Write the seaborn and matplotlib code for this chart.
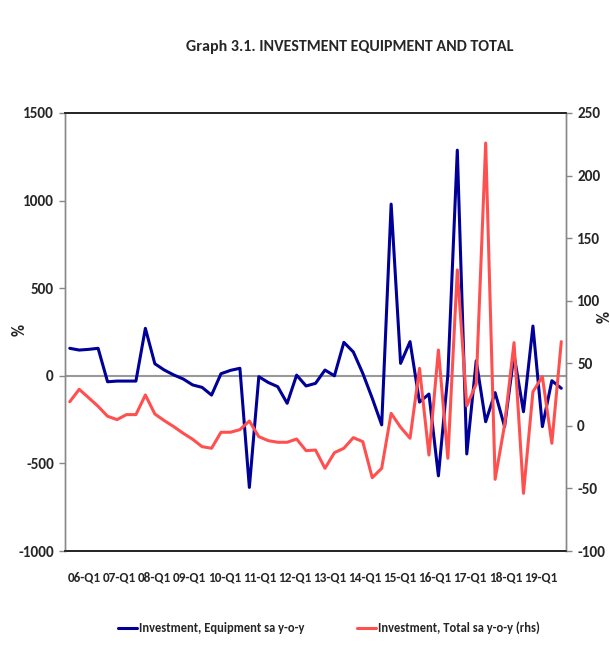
import numpy as np
import pandas as pd
import matplotlib
matplotlib.use('Agg')
import matplotlib.pyplot as plt
import seaborn as sns

# quarters 06-Q1 .. 19-Q1
years = list(range(2006, 2020))
quarters = [f'{str(y)[2:]}-Q{q}' for y in years for q in range(1, 5)][:53]

# Investment, Equipment sa y-o-y (lhs, %)
equipment = [157, 147, 151, 157, -34, -30, -30, -30, 271, 69,
             33, 5, -18, -52, -66, -110, 12, 31, 43, -637,
             -5, -38, -62, -157, 4, -58, -43, 33, 0, 191,
             136, 14, -128, -280, 980, 71, 195, -150, -104, -571,
             5, 1288, -446, 86, -262, -96, -290, 120, -205, 284,
             -290, -28, -71]

# Investment, Total sa y-o-y (rhs, %)
total = [19.3, 29.2, 22.5, 15.6, 7.7, 5.0, 9.0, 9.0, 24.7, 9.5,
         4.2, -0.6, -5.9, -10.7, -16.6, -17.9, -5.1, -5.1, -3.0, 3.9,
         -8.6, -11.8, -13.1, -13.1, -10.5, -19.8, -19.3, -33.9, -21.4, -17.9,
         -9.4, -12.6, -41.4, -33.9, 10.0, -1.1, -9.9, 46.0, -23.3, 60.6,
         -25.9, 124.6, 16.0, 33.5, 226.0, -42.7, 0.7, 66.5, -53.9, 27.3,
         39.3, -13.9, 67.3]

tick_labels = [f'{str(y)[2:]}-Q1' for y in years]

df = pd.DataFrame({'idx': np.arange(len(quarters)), 'quarter': quarters,
                   'equipment': equipment, 'total': total})

sns.set_style('white')
font = ['Carlito', 'DejaVu Sans']
plt.rcParams['font.family'] = font
plt.rcParams['font.weight'] = 'bold'
plt.rcParams['axes.unicode_minus'] = False

fig = plt.figure(figsize=(6.1, 6.71), dpi=100)
ax = fig.add_axes([0.1066, 0.1788, 0.8213, 0.6528])
ax2 = ax.twinx()

blue = '#000099'
red = '#ff5050'

ax.axhline(0, color='#999999', lw=1.5, zorder=1)
sns.lineplot(data=df, x='idx', y='equipment', ax=ax, color=blue, lw=2.2,
             label='Investment, Equipment sa y-o-y', legend=False, zorder=3)
sns.lineplot(data=df, x='idx', y='total', ax=ax2, color=red, lw=2.2,
             label='Investment, Total sa y-o-y (rhs)', legend=False, zorder=3)

n = len(quarters)
ax.set_xlim(-0.5, n - 0.5)
ax.set_ylim(-1000, 1500)
ax2.set_ylim(-100, 250)
ax.set_yticks(range(-1000, 1501, 500))
ax2.set_yticks(range(-100, 251, 50))

# Excel spreads the yearly labels a bit narrower than the data points
ax.set_xticks(np.linspace(1.5, 49.8, len(tick_labels)))
ax.set_xticklabels(tick_labels)
ax.tick_params(axis='x', length=0, pad=15, labelsize=9.5)
ax.tick_params(axis='y', length=4, width=1, color='#888888', direction='out',
               labelsize=11, left=True, pad=4)
ax2.tick_params(axis='y', length=4, width=1, color='#888888', direction='out',
                labelsize=11, right=True, pad=4)
for lab in ax.get_xticklabels() + ax.get_yticklabels() + ax2.get_yticklabels():
    lab.set_fontweight('bold')

ax.set_xlabel('')
ax.set_ylabel('%', fontsize=12, fontweight='bold')
ax2.set_ylabel('%', fontsize=12, fontweight='bold')
ax.yaxis.set_label_coords(-0.075, 0.505)
ax2.yaxis.set_label_coords(1.061, 0.535)

for a in (ax, ax2):
    for side in ('left', 'right'):
        a.spines[side].set_color('#888888')
        a.spines[side].set_linewidth(1)
    for side in ('top', 'bottom'):
        a.spines[side].set_color('#222222')
        a.spines[side].set_linewidth(1.2)

fig.text(0.574, 0.93, 'Graph 3.1. INVESTMENT EQUIPMENT AND TOTAL',
         ha='center', va='center', fontsize=11.5, fontweight='bold')

h1, l1 = ax.get_legend_handles_labels()
h2, l2 = ax2.get_legend_handles_labels()
fig.legend(h1 + h2, l1 + l2, loc='center left', bbox_to_anchor=(0.175, 0.064),
           ncol=2, frameon=False, handlelength=1.5,
           handletextpad=0.2, columnspacing=4.2,
           prop={'weight': 'bold', 'size': 9})

fig.savefig('out.png', dpi=100)
